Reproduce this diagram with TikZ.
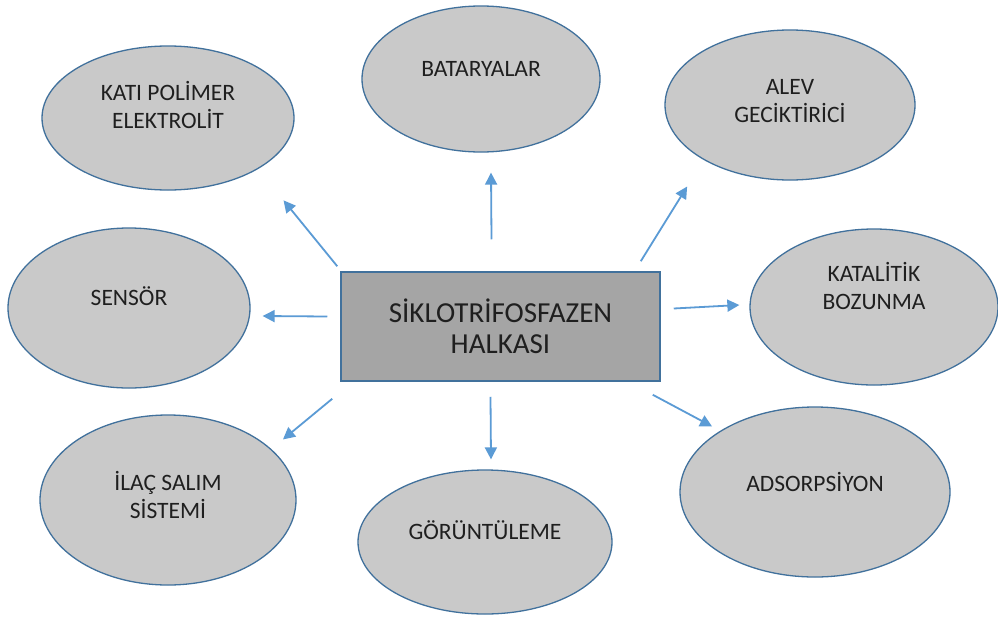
\documentclass[tikz,border=0pt]{standalone}
\usepackage{fontspec}
\setmainfont{Carlito}
\usetikzlibrary{arrows.meta,shapes.geometric}
\definecolor{rimblue}{HTML}{41719C}
\definecolor{arrowblue}{HTML}{5B9BD5}
\definecolor{blobgray}{HTML}{C9C9C9}
\definecolor{coregray}{HTML}{A5A5A5}
\tikzset{
  blob/.style={ellipse, draw=rimblue, line width=1.3pt, fill=blobgray},
  lbl/.style={align=center, font=\fontsize{23.5}{28.5}\selectfont, text=black!88},
  corebox/.style={rectangle, draw=rimblue, line width=1.5pt, fill=coregray,
    minimum width=319pt, minimum height=109pt, align=center,
    font=\fontsize{29}{31.5}\selectfont, text=black!88},
  arr/.style={draw=arrowblue, line width=1.8pt, -{Triangle[length=12pt,width=12pt]}}
}
\begin{document}
\begin{tikzpicture}[x=1pt, y=-1pt]
			%%%%% START %%%%%
			\useasboundingbox[fill=white] (0, 0) rectangle (998, 624);
			
			\node[corebox] (core) at (500.5, 326.5) {SİKLOTRİFOSFAZEN\\HALKASI};
			
			\node[blob, minimum width=252pt, minimum height=144pt,
			  label={[lbl, yshift=13pt]center:KATI POLİMER\\ELEKTROLİT}] (kati) at (168, 118) {};
			\node[blob, minimum width=238pt, minimum height=146pt,
			  label={[lbl, yshift=10pt]center:BATARYALAR}] (bat) at (481, 79) {};
			\node[blob, minimum width=250pt, minimum height=150pt,
			  label={[lbl, yshift=4pt]center:ALEV\\GECİKTİRİCİ}] (alev) at (790, 105) {};
			\node[blob, minimum width=242pt, minimum height=160pt,
			  label={[lbl, yshift=12pt]center:SENSÖR}] (sensor) at (129, 308) {};
			\node[blob, minimum width=248pt, minimum height=156pt,
			  label={[lbl, yshift=21pt]center:KATALİTİK\\BOZUNMA}] (katal) at (874, 307) {};
			\node[blob, minimum width=256pt, minimum height=170pt,
			  label={[lbl, yshift=5pt]center:İLAÇ SALIM\\SİSTEMİ}] (ilac) at (168, 500) {};
			\node[blob, minimum width=254pt, minimum height=144pt,
			  label={[lbl, yshift=12pt]center:GÖRÜNTÜLEME}] (goru) at (485, 542) {};
			\node[blob, minimum width=270pt, minimum height=170pt,
			  label={[lbl, yshift=10pt]center:ADSORPSİYON}] (ads) at (815, 492) {};
			
			% arrows out of the ring
			\draw[arr] ([shift={(-3,-5)}]core.north west) -- ([shift={(26,31)}]kati.south east);
			\draw[arr] ([shift={(-9,-32)}]core.north) -- ([shift={(10,20)}]bat.south);
			\draw[arr] ([shift={(-20,-10)}]core.north east) -- ([shift={(-14,28)}]alev.south west);
			\draw[arr] ([shift={(-13,-10)}]core.west) -- ([shift={(12,8)}]sensor.east);
			\draw[arr] ([shift={(13,-18)}]core.east) -- ([shift={(-10,-2)}]katal.west);
			\draw[arr] ([shift={(-8,17)}]core.south west) -- ([shift={(24,0)}]ilac.north east);
			\draw[arr] ([shift={(-10,15)}]core.south) -- ([shift={(6,-10)}]goru.north);
			\draw[arr] ([shift={(-8,13)}]core.south east) -- ([shift={(-7,-5)}]ads.north west);
			%%%%% END %%%%%
\end{tikzpicture}
\end{document}
